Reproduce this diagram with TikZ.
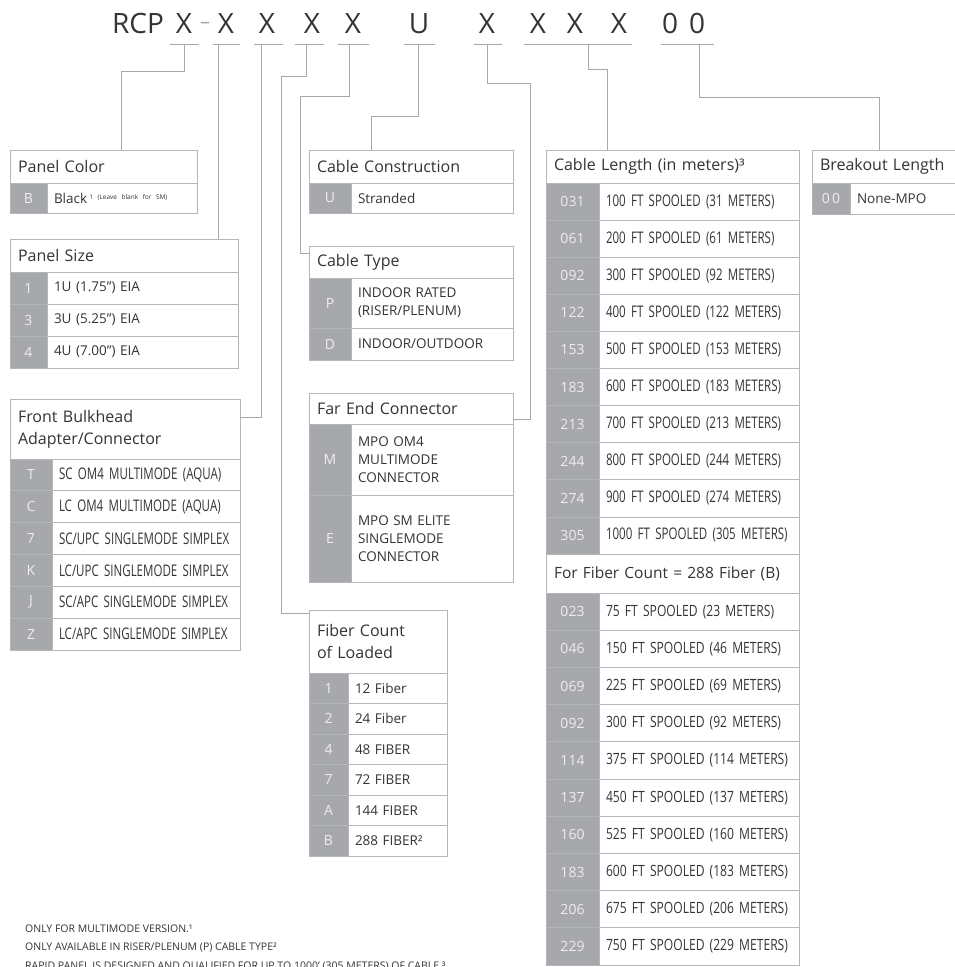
\documentclass[tikz,border=0pt]{standalone}
\usepackage{fontspec}
\setmainfont{Open Sans}
\newfontfamily\condfont[FakeStretch=0.72,WordSpace=0.7]{Open Sans}
\newfontfamily\semifont[FakeStretch=0.78,WordSpace=0.75]{Open Sans}
\usetikzlibrary{positioning}

\definecolor{CodeGray}{RGB}{166,168,171}
\definecolor{CodeInk}{RGB}{238,238,238}
\definecolor{LineGray}{RGB}{180,182,185}
\definecolor{LeadGray}{RGB}{168,168,168}
\definecolor{InkGray}{RGB}{52,52,52}

\begin{document}
\begin{tikzpicture}[x=1pt,y=-1pt]
  \tikzset{HeadStyle/.style = {
    shape         = rectangle,
    draw          = LineGray,
    fill          = white,
    line width    = 0.8pt,
    text          = InkGray,
    anchor        = north west,
    align         = left,
    inner xsep    = 8pt,
    inner ysep    = 0pt,
    outer sep     = 0pt,
    font          = \fontsize{16}{22}\selectfont
    }
  }
  \tikzset{CodeStyle/.style = {
    shape         = rectangle,
    draw          = LineGray,
    fill          = CodeGray,
    line width    = 0.8pt,
    text          = CodeInk,
    anchor        = north west,
    inner sep     = 0pt,
    outer sep     = 0pt,
    font          = \fontsize{14}{16}\selectfont
    }
  }
  \tikzset{ItemStyle/.style = {
    shape         = rectangle,
    draw          = LineGray,
    fill          = white,
    line width    = 0.8pt,
    text          = InkGray,
    align         = left,
    inner xsep    = 7pt,
    inner ysep    = 0pt,
    outer sep     = 0pt,
    font          = \fontsize{13.5}{18}\selectfont
    }
  }
  \tikzset{CondStyle/.style = {ItemStyle, font = \condfont\fontsize{16}{18}\selectfont}}
  \tikzset{SemiStyle/.style = {ItemStyle, font = \semifont\fontsize{15.5}{18}\selectfont}}
  \tikzset{KeyStyle/.style = {
    anchor        = base,
    inner sep     = 0pt,
    text          = InkGray,
    font          = \fontsize{28}{30}\selectfont
    }
  }
  \tikzset{NoteStyle/.style = {
    anchor        = base west,
    inner sep     = 0pt,
    text          = InkGray,
    font          = \fontsize{10.5}{12}\selectfont
    }
  }
  \tikzset{LeaderStyle/.style = {
    draw          = LeadGray,
    line width    = 0.8pt
    }
  }

  \path[use as bounding box, fill=white] (0,0) rectangle (954,967);

  % part number
  \node[KeyStyle] (K0) at (138,33) {RCP};
  \node[KeyStyle] (K1) at (184,33) {X};
  \node[KeyStyle, text=LeadGray, font=\fontsize{20}{22}\selectfont] (KD) at (205,28) {–};
  \node[KeyStyle] (K2) at (226,33) {X};
  \node[KeyStyle] (K3) at (267,33) {X};
  \node[KeyStyle] (K4) at (312,33) {X};
  \node[KeyStyle] (K5) at (353,33) {X};
  \node[KeyStyle] (KU) at (419,33) {U};
  \node[KeyStyle] (K6) at (487,33) {X};
  \node[KeyStyle] (K7) at (538,33) {X};
  \node[KeyStyle] (K8) at (575,33) {X};
  \node[KeyStyle] (K9) at (619,33) {X};
  \node[KeyStyle] (Z1) at (670,33) {0};
  \node[KeyStyle] (Z2) at (697,33) {0};

  \draw[LeaderStyle] (170,44) -- (199,44);
  \draw[LeaderStyle] (213,44) -- (240,44);
  \draw[LeaderStyle] (254,44) -- (283,44);
  \draw[LeaderStyle] (295,44) -- (324,44);
  \draw[LeaderStyle] (338,44) -- (369,44);
  \draw[LeaderStyle] (404,44) -- (435,44);
  \draw[LeaderStyle] (474,44) -- (502,44);
  \draw[LeaderStyle] (524,44) -- (632,44);
  \draw[LeaderStyle] (661,44) -- (714,44);

  \coordinate (L1) at (184,44);
  \coordinate (L2) at (218,44);
  \coordinate (L3) at (261,44);
  \coordinate (L4) at (306,44);
  \coordinate (L5) at (349,44);
  \coordinate (L6) at (418,44);
  \coordinate (L7) at (487,44);
  \coordinate (L8) at (588,44);
  \coordinate (L9) at (699,44);

  % Panel Color
  \node[HeadStyle, text width=171pt, minimum height=33pt] (PCh) at (10,150) {Panel Color};
  \node[CodeStyle, minimum width=37pt, minimum height=30pt] (PC1) at (10,183) {B};
  \node[ItemStyle, text width=136pt, minimum height=30pt, right=0pt of PC1] (PCt1)
    {Black\,{\fontsize{6.5}{7}\selectfont\raisebox{3.5pt}{1 (Leave blank for SM)}}};

  % Panel Size
  \node[HeadStyle, text width=212pt, minimum height=33pt] (PSh) at (10,239) {Panel Size};
  \node[CodeStyle, minimum width=37pt, minimum height=32pt] (PS1) at (10,272) {1};
  \node[ItemStyle, text width=177pt, minimum height=32pt, right=0pt of PS1] (PSt1) {1U (1.75”) EIA};
  \node[CodeStyle, minimum width=37pt, minimum height=32pt] (PS2) at (10,304) {3};
  \node[ItemStyle, text width=177pt, minimum height=32pt, right=0pt of PS2] (PSt2) {3U (5.25”) EIA};
  \node[CodeStyle, minimum width=37pt, minimum height=32pt] (PS3) at (10,336) {4};
  \node[ItemStyle, text width=177pt, minimum height=32pt, right=0pt of PS3] (PSt3) {4U (7.00”) EIA};

  % Front Bulkhead
  \node[HeadStyle, text width=214pt, minimum height=60pt] (FBh) at (10,399) {Front Bulkhead\\Adapter/Connector};
  \node[CodeStyle, minimum width=42pt, minimum height=31.8pt] (FB1) at (10,459) {T};
  \node[CondStyle, text width=174pt, minimum height=31.8pt, right=0pt of FB1] (FBt1) {SC OM4 MULTIMODE (AQUA)};
  \node[CodeStyle, minimum width=42pt, minimum height=31.8pt] (FB2) at (10,490.8) {C};
  \node[CondStyle, text width=174pt, minimum height=31.8pt, right=0pt of FB2] (FBt2) {LC OM4 MULTIMODE (AQUA)};
  \node[CodeStyle, minimum width=42pt, minimum height=31.8pt] (FB3) at (10,522.7) {7};
  \node[CondStyle, text width=174pt, minimum height=31.8pt, right=0pt of FB3] (FBt3) {SC/UPC SINGLEMODE SIMPLEX};
  \node[CodeStyle, minimum width=42pt, minimum height=31.8pt] (FB4) at (10,554.5) {K};
  \node[CondStyle, text width=174pt, minimum height=31.8pt, right=0pt of FB4] (FBt4) {LC/UPC SINGLEMODE SIMPLEX};
  \node[CodeStyle, minimum width=42pt, minimum height=31.8pt] (FB5) at (10,586.3) {J};
  \node[CondStyle, text width=174pt, minimum height=31.8pt, right=0pt of FB5] (FBt5) {SC/APC SINGLEMODE SIMPLEX};
  \node[CodeStyle, minimum width=42pt, minimum height=31.8pt] (FB6) at (10,618.2) {Z};
  \node[CondStyle, text width=174pt, minimum height=31.8pt, right=0pt of FB6] (FBt6) {LC/APC SINGLEMODE SIMPLEX};

  % Cable Construction
  \node[HeadStyle, text width=188pt, minimum height=33pt] (CCh) at (309,150) {Cable Construction};
  \node[CodeStyle, minimum width=42pt, minimum height=30pt] (CC1) at (309,183) {U};
  \node[ItemStyle, text width=148pt, minimum height=30pt, right=0pt of CC1] (CCt1) {Stranded};

  % Cable Type
  \node[HeadStyle, text width=188pt, minimum height=32pt] (CTh) at (309,246) {Cable Type};
  \node[CodeStyle, minimum width=42pt, minimum height=50pt] (CT1) at (309,278) {P};
  \node[ItemStyle, text width=148pt, minimum height=50pt, right=0pt of CT1] (CTt1) {INDOOR RATED\\(RISER/PLENUM)};
  \node[CodeStyle, minimum width=42pt, minimum height=32pt] (CT2) at (309,328) {D};
  \node[ItemStyle, text width=148pt, minimum height=32pt, right=0pt of CT2] (CTt2) {INDOOR/OUTDOOR};

  % Far End Connector
  \node[HeadStyle, text width=188pt, minimum height=31pt] (FEh) at (309,393) {Far End Connector};
  \node[CodeStyle, minimum width=42pt, minimum height=71pt] (FE1) at (309,424) {M};
  \node[ItemStyle, text width=148pt, minimum height=71pt, right=0pt of FE1] (FEt1) {MPO OM4\\MULTIMODE\\CONNECTOR};
  \node[CodeStyle, minimum width=42pt, minimum height=87pt] (FE2) at (309,495) {E};
  \node[ItemStyle, text width=148pt, minimum height=87pt, right=0pt of FE2] (FEt2) {MPO SM ELITE\\SINGLEMODE\\CONNECTOR};

  % Fiber Count
  \node[HeadStyle, text width=122pt, minimum height=63pt] (FCh) at (309,610) {Fiber Count\\of Loaded};
  \node[CodeStyle, minimum width=39pt, minimum height=30.5pt] (FC1) at (309,673) {1};
  \node[ItemStyle, text width=85pt, minimum height=30.5pt, right=0pt of FC1] (FCt1) {12 Fiber};
  \node[CodeStyle, minimum width=39pt, minimum height=30.5pt] (FC2) at (309,703.5) {2};
  \node[ItemStyle, text width=85pt, minimum height=30.5pt, right=0pt of FC2] (FCt2) {24 Fiber};
  \node[CodeStyle, minimum width=39pt, minimum height=30.5pt] (FC3) at (309,734) {4};
  \node[ItemStyle, text width=85pt, minimum height=30.5pt, right=0pt of FC3] (FCt3) {48 FIBER};
  \node[CodeStyle, minimum width=39pt, minimum height=30.5pt] (FC4) at (309,764.5) {7};
  \node[ItemStyle, text width=85pt, minimum height=30.5pt, right=0pt of FC4] (FCt4) {72 FIBER};
  \node[CodeStyle, minimum width=39pt, minimum height=30.5pt] (FC5) at (309,795) {A};
  \node[ItemStyle, text width=85pt, minimum height=30.5pt, right=0pt of FC5] (FCt5) {144 FIBER};
  \node[CodeStyle, minimum width=39pt, minimum height=30.5pt] (FC6) at (309,825.5) {B};
  \node[ItemStyle, text width=85pt, minimum height=30.5pt, right=0pt of FC6] (FCt6) {288 FIBER²};

  % Cable Length
  \node[HeadStyle, text width=237pt, minimum height=33pt] (CLh) at (546,150) {Cable Length (in meters)³};
  \node[CodeStyle, minimum width=53pt, minimum height=37.1pt] (CL1) at (546,183) {031};
  \node[CondStyle, text width=186pt, minimum height=37.1pt, right=0pt of CL1] (CLt1) {100 FT SPOOLED (31 METERS)};
  \node[CodeStyle, minimum width=53pt, minimum height=37.1pt] (CL2) at (546,220.1) {061};
  \node[CondStyle, text width=186pt, minimum height=37.1pt, right=0pt of CL2] (CLt2) {200 FT SPOOLED (61 METERS)};
  \node[CodeStyle, minimum width=53pt, minimum height=37.1pt] (CL3) at (546,257.2) {092};
  \node[CondStyle, text width=186pt, minimum height=37.1pt, right=0pt of CL3] (CLt3) {300 FT SPOOLED (92 METERS)};
  \node[CodeStyle, minimum width=53pt, minimum height=37.1pt] (CL4) at (546,294.3) {122};
  \node[CondStyle, text width=186pt, minimum height=37.1pt, right=0pt of CL4] (CLt4) {400 FT SPOOLED (122 METERS)};
  \node[CodeStyle, minimum width=53pt, minimum height=37.1pt] (CL5) at (546,331.4) {153};
  \node[CondStyle, text width=186pt, minimum height=37.1pt, right=0pt of CL5] (CLt5) {500 FT SPOOLED (153 METERS)};
  \node[CodeStyle, minimum width=53pt, minimum height=37.1pt] (CL6) at (546,368.5) {183};
  \node[CondStyle, text width=186pt, minimum height=37.1pt, right=0pt of CL6] (CLt6) {600 FT SPOOLED (183 METERS)};
  \node[CodeStyle, minimum width=53pt, minimum height=37.1pt] (CL7) at (546,405.6) {213};
  \node[CondStyle, text width=186pt, minimum height=37.1pt, right=0pt of CL7] (CLt7) {700 FT SPOOLED (213 METERS)};
  \node[CodeStyle, minimum width=53pt, minimum height=37.1pt] (CL8) at (546,442.7) {244};
  \node[CondStyle, text width=186pt, minimum height=37.1pt, right=0pt of CL8] (CLt8) {800 FT SPOOLED (244 METERS)};
  \node[CodeStyle, minimum width=53pt, minimum height=37.1pt] (CL9) at (546,479.8) {274};
  \node[CondStyle, text width=186pt, minimum height=37.1pt, right=0pt of CL9] (CLt9) {900 FT SPOOLED (274 METERS)};
  \node[CodeStyle, minimum width=53pt, minimum height=37.1pt] (CL10) at (546,516.9) {305};
  \node[CondStyle, text width=186pt, minimum height=37.1pt, right=0pt of CL10] (CLt10) {1000 FT SPOOLED (305 METERS)};

  \node[HeadStyle, text width=237pt, minimum height=39pt, font=\fontsize{15.5}{20}\selectfont] (CBh) at (546,554)
    {For Fiber Count = 288 Fiber (B)};
  \node[CodeStyle, minimum width=53pt, minimum height=37.2pt] (CB1) at (546,593) {023};
  \node[SemiStyle, text width=186pt, minimum height=37.2pt, right=0pt of CB1] (CBt1) {75 FT SPOOLED (23 METERS)};
  \node[CodeStyle, minimum width=53pt, minimum height=37.2pt] (CB2) at (546,630.2) {046};
  \node[SemiStyle, text width=186pt, minimum height=37.2pt, right=0pt of CB2] (CBt2) {150 FT SPOOLED (46 METERS)};
  \node[CodeStyle, minimum width=53pt, minimum height=37.2pt] (CB3) at (546,667.4) {069};
  \node[SemiStyle, text width=186pt, minimum height=37.2pt, right=0pt of CB3] (CBt3) {225 FT SPOOLED (69 METERS)};
  \node[CodeStyle, minimum width=53pt, minimum height=37.2pt] (CB4) at (546,704.6) {092};
  \node[SemiStyle, text width=186pt, minimum height=37.2pt, right=0pt of CB4] (CBt4) {300 FT SPOOLED (92 METERS)};
  \node[CodeStyle, minimum width=53pt, minimum height=37.2pt] (CB5) at (546,741.8) {114};
  \node[SemiStyle, text width=186pt, minimum height=37.2pt, right=0pt of CB5] (CBt5) {375 FT SPOOLED (114 METERS)};
  \node[CodeStyle, minimum width=53pt, minimum height=37.2pt] (CB6) at (546,779) {137};
  \node[SemiStyle, text width=186pt, minimum height=37.2pt, right=0pt of CB6] (CBt6) {450 FT SPOOLED (137 METERS)};
  \node[CodeStyle, minimum width=53pt, minimum height=37.2pt] (CB7) at (546,816.2) {160};
  \node[SemiStyle, text width=186pt, minimum height=37.2pt, right=0pt of CB7] (CBt7) {525 FT SPOOLED (160 METERS)};
  \node[CodeStyle, minimum width=53pt, minimum height=37.2pt] (CB8) at (546,853.4) {183};
  \node[SemiStyle, text width=186pt, minimum height=37.2pt, right=0pt of CB8] (CBt8) {600 FT SPOOLED (183 METERS)};
  \node[CodeStyle, minimum width=53pt, minimum height=37.2pt] (CB9) at (546,890.6) {206};
  \node[SemiStyle, text width=186pt, minimum height=37.2pt, right=0pt of CB9] (CBt9) {675 FT SPOOLED (206 METERS)};
  \node[CodeStyle, minimum width=53pt, minimum height=37.2pt] (CB10) at (546,927.8) {229};
  \node[SemiStyle, text width=186pt, minimum height=37.2pt, right=0pt of CB10] (CBt10) {750 FT SPOOLED (229 METERS)};

  % Breakout Length
  \node[HeadStyle, text width=134pt, minimum height=33pt] (BLh) at (812,150) {Breakout Length};
  \node[CodeStyle, minimum width=38pt, minimum height=31pt] (BL1) at (812,183) {0\,0};
  \node[ItemStyle, text width=98pt, minimum height=31pt, right=0pt of BL1] (BLt1) {None-MPO};

  % leaders
  \draw[LeaderStyle] (L1) -- ++(0,27) -| ([xshift=111pt]PCh.north west);
  \draw[LeaderStyle] (L2) -- (L2 |- PSh.north);
  \draw[LeaderStyle] (L3) |- ([yshift=-18pt]FBh.north east);
  \draw[LeaderStyle] (L4) -- ++(0,32) -| ([xshift=-28pt,yshift=-3pt]FCh.north west) -- ([yshift=-3pt]FCh.north west);
  \draw[LeaderStyle] (L5) -- ++(0,52) -| ([xshift=-9pt,yshift=-7pt]CTh.north west) -- ([yshift=-7pt]CTh.north west);
  \draw[LeaderStyle] (L6) -- ++(0,72) -| ([xshift=62pt]CCh.north west);
  \draw[LeaderStyle] (L7) -- ++(0,39) -| ([xshift=17pt,yshift=-26pt]FEh.north east) -- ([yshift=-26pt]FEh.north east);
  \draw[LeaderStyle] (L8) -- ++(0,25) -| ([xshift=61pt]CLh.north west);
  \draw[LeaderStyle] (L9) -- ++(0,53) -| ([xshift=67pt]BLh.north west);

  % notes
  \node[NoteStyle] (N1) at (25,932) {ONLY FOR MULTIMODE VERSION.¹};
  \node[NoteStyle] (N2) at (25,950) {ONLY AVAILABLE IN RISER/PLENUM (P) CABLE TYPE²};
  \node[NoteStyle] (N3) at (25,969) {RAPID PANEL IS DESIGNED AND QUALIFIED FOR UP TO 1000' (305 METERS) OF CABLE.³};

\end{tikzpicture}
\end{document}
